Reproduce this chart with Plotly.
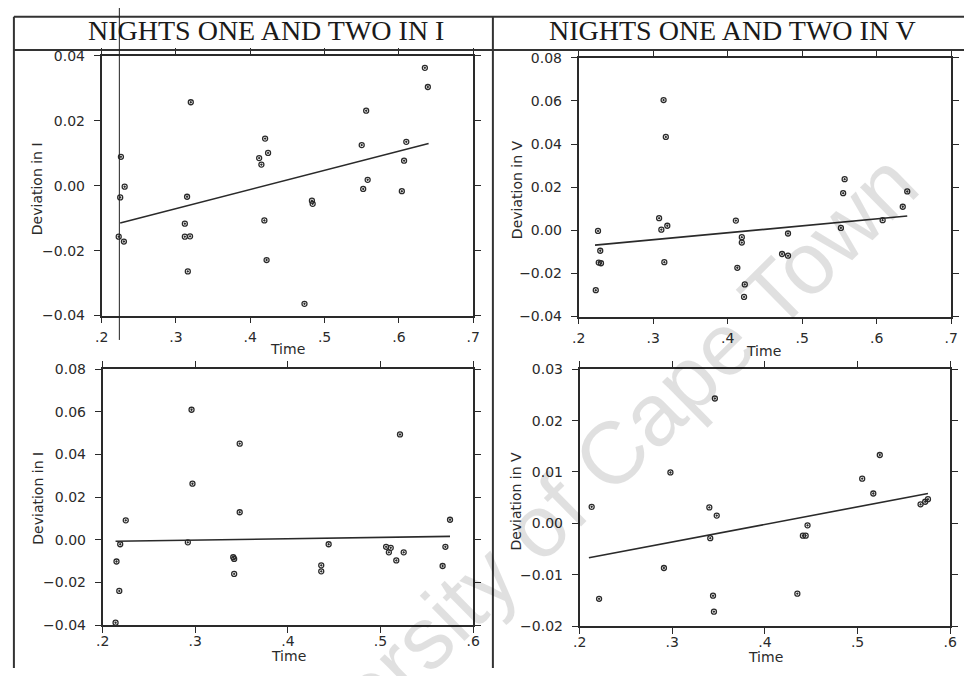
import plotly.graph_objects as go

W, H = 971, 676

# ---------------- data ----------------
titles = ["NIGHTS ONE AND TWO IN I", "NIGHTS ONE AND TWO IN V"]
x_label = "Time"
y_labels = ["Deviation in I", "Deviation in V", "Deviation in I", "Deviation in V"]

# Panel 1: nights one and two, I
t1 = [0.226, 0.231, 0.225, 0.223, 0.230, 0.320, 0.315, 0.312, 0.312, 0.319, 0.316,
      0.420, 0.412, 0.424, 0.415, 0.419, 0.422, 0.473, 0.483, 0.484,
      0.556, 0.550, 0.558, 0.552, 0.610, 0.607, 0.604, 0.635, 0.639]
d1 = [0.0089, -0.0003, -0.0036, -0.0157, -0.0172, 0.0257, -0.0034, -0.0117, -0.0157, -0.0156, -0.0264,
      0.0145, 0.0085, 0.0101, 0.0065, -0.0107, -0.0229, -0.0364, -0.0046, -0.0056,
      0.0231, 0.0125, 0.0018, -0.0010, 0.0135, 0.0077, -0.0017, 0.0363, 0.0304]
fit1_t = [0.225, 0.640]
fit1_d = [-0.0115, 0.0130]

# Panel 2: nights one and two, V
t2 = [0.223, 0.226, 0.229, 0.227, 0.230, 0.314, 0.317, 0.308, 0.311, 0.319, 0.315,
      0.411, 0.419, 0.419, 0.413, 0.423, 0.422, 0.481, 0.473, 0.481,
      0.557, 0.555, 0.552, 0.608, 0.635, 0.641]
d2 = [-0.0278, -0.0003, -0.0095, -0.0150, -0.0153, 0.0604, 0.0433, 0.0056, 0.0003, 0.0021, -0.0148,
      0.0045, -0.0032, -0.0057, -0.0174, -0.0251, -0.0309, -0.0015, -0.0110, -0.0118,
      0.0237, 0.0172, 0.0011, 0.0047, 0.0109, 0.0180]
fit2_t = [0.222, 0.641]
fit2_d = [-0.0069, 0.0066]

# Panel 3: I (lower)
t3 = [0.214, 0.215, 0.218, 0.219, 0.225, 0.296, 0.297, 0.292, 0.348, 0.348, 0.341, 0.342, 0.342,
      0.444, 0.436, 0.436, 0.506, 0.511, 0.509, 0.521, 0.525, 0.517, 0.570, 0.567, 0.575]
d3 = [-0.0389, -0.0102, -0.0240, -0.0021, 0.0091, 0.0610, 0.0263, -0.0012, 0.0451, 0.0129, -0.0082, -0.0090, -0.0160,
      -0.0021, -0.0120, -0.0148, -0.0033, -0.0038, -0.0059, 0.0494, -0.0059, -0.0097, -0.0033, -0.0123, 0.0094]
fit3_t = [0.214, 0.575]
fit3_d = [-0.0007, 0.0016]

# Panel 4: V (lower)
t4 = [0.213, 0.221, 0.298, 0.291, 0.346, 0.340, 0.348, 0.341, 0.344, 0.345,
      0.435, 0.446, 0.441, 0.444, 0.505, 0.524, 0.517, 0.568, 0.573, 0.576]
d4 = [0.0032, -0.0147, 0.0099, -0.0087, 0.0243, 0.0031, 0.0015, -0.0029, -0.0141, -0.0172,
      -0.0137, -0.0004, -0.0024, -0.0024, 0.0087, 0.0133, 0.0058, 0.0037, 0.0042, 0.0047]
fit4_t = [0.210, 0.576]
fit4_d = [-0.0067, 0.0058]

x_ticks_top = [0.2, 0.3, 0.4, 0.5, 0.6, 0.7]
x_ticks_bot = [0.2, 0.3, 0.4, 0.5, 0.6]
x_ticktext_top = [".2", ".3", ".4", ".5", ".6", ".7"]
x_ticktext_bot = [".2", ".3", ".4", ".5", ".6"]
y_ticks_1 = [-0.04, -0.02, 0.0, 0.02, 0.04]
y_ticks_2 = [-0.04, -0.02, 0.0, 0.02, 0.04, 0.06, 0.08]
y_ticks_3 = [-0.04, -0.02, 0.0, 0.02, 0.04, 0.06, 0.08]
y_ticks_4 = [-0.02, -0.01, 0.0, 0.01, 0.02, 0.03]
watermark = "University of Cape Town"

# ---------------- figure ----------------
INK = "#2a2a2a"
TICKFONT = dict(family="DejaVu Sans", size=14, color=INK)

def px_dom_x(a, b):
    return [a / W, b / W]

def px_dom_y(top, bottom):
    return [1 - bottom / H, 1 - top / H]

panels = [
    dict(t=t1, d=d1, ft=fit1_t, fd=fit1_d, dx=px_dom_x(96, 473), dy=px_dom_y(49, 315),
         xr=[0.2, 0.7], xt=x_ticks_top, xtt=x_ticktext_top, yt=y_ticks_1, xso=2),
    dict(t=t2, d=d2, ft=fit2_t, fd=fit2_d, dx=px_dom_x(580, 958), dy=px_dom_y(51, 316),
         xr=[0.2, 0.7], xt=x_ticks_top, xtt=x_ticktext_top, yt=y_ticks_2, xso=2),
    dict(t=t3, d=d3, ft=fit3_t, fd=fit3_d, dx=px_dom_x(97, 473), dy=px_dom_y(370, 632),
         xr=[0.2, 0.6], xt=x_ticks_bot, xtt=x_ticktext_bot, yt=y_ticks_3, xso=-4),
    dict(t=t4, d=d4, ft=fit4_t, fd=fit4_d, dx=px_dom_x(581, 957), dy=px_dom_y(370, 633),
         xr=[0.2, 0.6], xt=x_ticks_bot, xtt=x_ticktext_bot, yt=y_ticks_4, xso=-4),
]

def fmt_y(v):
    s = f"{abs(v):.2f}"
    return ("\u2212" + s) if v < 0 else s

fig = go.Figure()
layout = {}
for i, p in enumerate(panels, start=1):
    sfx = "" if i == 1 else str(i)
    xa, ya = "x" + sfx, "y" + sfx
    fig.add_trace(go.Scatter(
        x=p["t"], y=p["d"], mode="markers", xaxis=xa, yaxis=ya, cliponaxis=False,
        marker=dict(symbol="circle-open-dot", size=5, color=INK, line=dict(width=1.3, color=INK)),
        showlegend=False, hoverinfo="skip"))
    fig.add_trace(go.Scatter(
        x=p["ft"], y=p["fd"], mode="lines", xaxis=xa, yaxis=ya,
        line=dict(color=INK, width=1.6), showlegend=False, hoverinfo="skip"))
    common = dict(showline=True, linewidth=1.6, linecolor=INK, mirror="ticks",
                  ticks="outside", ticklen=6, tickwidth=1.2, tickcolor=INK,
                  showgrid=False, zeroline=False, tickfont=TICKFONT, fixedrange=True)
    layout["xaxis" + sfx] = dict(domain=p["dx"], range=p["xr"], anchor=ya,
                                 tickvals=p["xt"], ticktext=p["xtt"],
                                 ticklabelstandoff=p["xso"], **common)
    yr = [p["yt"][0], p["yt"][-1]]
    layout["yaxis" + sfx] = dict(domain=p["dy"], range=yr, anchor=xa,
                                 tickvals=p["yt"], ticktext=[fmt_y(v) for v in p["yt"]],
                                 ticklabelstandoff=6, **common)

annotations = []
# watermark (drawn first, underneath other annotations)
annotations.append(dict(x=565 / W, y=1 - 504 / H, xref="paper", yref="paper", text=watermark,
                        showarrow=False, xanchor="center", yanchor="middle", textangle=-44.5,
                        font=dict(family="Liberation Sans", size=88, color="rgba(0,0,0,0.12)")))
# titles
for cx, txt in [(263, titles[0]), (736, titles[1])]:
    annotations.append(dict(x=cx / W, y=1 - 23 / H, xref="paper", yref="paper", text=txt,
                            showarrow=False, xanchor="center", yanchor="middle",
                            font=dict(family="Liberation Serif", size=28, color="#1a1a1a")))
# axis titles
for cx, cy in [(285, 349), (768, 351), (286, 664), (770, 665)]:
    annotations.append(dict(x=cx / W, y=1 - cy / H, xref="paper", yref="paper", text=x_label,
                            showarrow=False, xanchor="center", yanchor="middle",
                            font=dict(family="DejaVu Sans", size=14, color=INK)))
for (cx, cy), lab in zip([(30, 185), (517, 186), (32, 502), (517, 505)], y_labels):
    annotations.append(dict(x=cx / W, y=1 - cy / H, xref="paper", yref="paper", text=lab,
                            showarrow=False, xanchor="center", yanchor="middle", textangle=-90,
                            font=dict(family="DejaVu Sans", size=14, color=INK)))

shapes = []
def seg(x0, y0, x1, y1, w=2, c="#333333"):
    shapes.append(dict(type="line", xref="paper", yref="paper",
                       x0=x0 / W, y0=1 - y0 / H, x1=x1 / W, y1=1 - y1 / H,
                       line=dict(color=c, width=w)))
seg(7, 9, 971, 9)
seg(7, 43, 971, 43)
seg(7, 9, 7, 676)
seg(493, 9, 493, 676)
seg(114, 0, 114, 340, w=1, c="#222222")

fig.update_layout(**layout)
fig.update_layout(width=W, height=H, margin=dict(l=0, r=0, t=0, b=0),
                  paper_bgcolor="white", plot_bgcolor="white",
                  annotations=annotations, shapes=shapes, showlegend=False)
fig.write_html("out.html", config={"displayModeBar": False},
               post_script="document.body.style.margin='0';document.body.style.overflow='hidden';")
